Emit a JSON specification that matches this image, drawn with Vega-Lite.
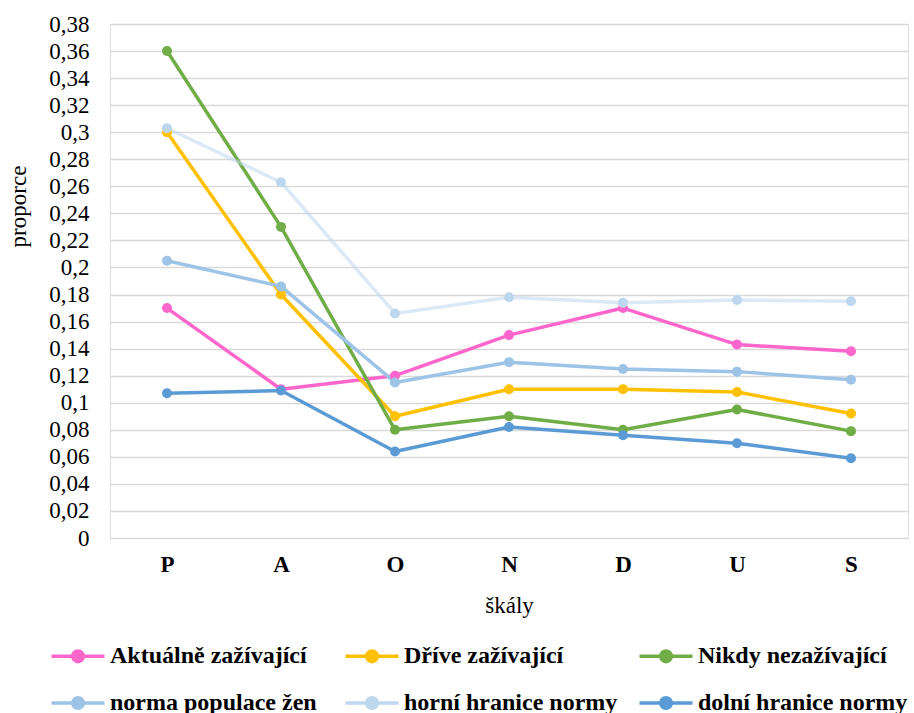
{
  "$schema": "https://vega.github.io/schema/vega-lite/v6.json",
  "width": 798,
  "height": 514,
  "autosize": "none",
  "padding": {"left": 110, "top": 24, "right": 6, "bottom": 175},
  "background": "white",
  "config": {"font": "Liberation Serif"},
  "data": {
    "values": [
      {"skala": "P", "serie": "Aktuálně zažívající", "hodnota": 0.17},
      {"skala": "A", "serie": "Aktuálně zažívající", "hodnota": 0.11},
      {"skala": "O", "serie": "Aktuálně zažívající", "hodnota": 0.12},
      {"skala": "N", "serie": "Aktuálně zažívající", "hodnota": 0.15},
      {"skala": "D", "serie": "Aktuálně zažívající", "hodnota": 0.17},
      {"skala": "U", "serie": "Aktuálně zažívající", "hodnota": 0.143},
      {"skala": "S", "serie": "Aktuálně zažívající", "hodnota": 0.138},
      {"skala": "P", "serie": "Dříve zažívající", "hodnota": 0.30},
      {"skala": "A", "serie": "Dříve zažívající", "hodnota": 0.18},
      {"skala": "O", "serie": "Dříve zažívající", "hodnota": 0.09},
      {"skala": "N", "serie": "Dříve zažívající", "hodnota": 0.11},
      {"skala": "D", "serie": "Dříve zažívající", "hodnota": 0.11},
      {"skala": "U", "serie": "Dříve zažívající", "hodnota": 0.108},
      {"skala": "S", "serie": "Dříve zažívající", "hodnota": 0.092},
      {"skala": "P", "serie": "Nikdy nezažívající", "hodnota": 0.36},
      {"skala": "A", "serie": "Nikdy nezažívající", "hodnota": 0.23},
      {"skala": "O", "serie": "Nikdy nezažívající", "hodnota": 0.08},
      {"skala": "N", "serie": "Nikdy nezažívající", "hodnota": 0.09},
      {"skala": "D", "serie": "Nikdy nezažívající", "hodnota": 0.08},
      {"skala": "U", "serie": "Nikdy nezažívající", "hodnota": 0.095},
      {"skala": "S", "serie": "Nikdy nezažívající", "hodnota": 0.079},
      {"skala": "P", "serie": "norma populace žen", "hodnota": 0.205},
      {"skala": "A", "serie": "norma populace žen", "hodnota": 0.186},
      {"skala": "O", "serie": "norma populace žen", "hodnota": 0.115},
      {"skala": "N", "serie": "norma populace žen", "hodnota": 0.130},
      {"skala": "D", "serie": "norma populace žen", "hodnota": 0.125},
      {"skala": "U", "serie": "norma populace žen", "hodnota": 0.123},
      {"skala": "S", "serie": "norma populace žen", "hodnota": 0.117},
      {"skala": "P", "serie": "horní hranice normy", "hodnota": 0.303},
      {"skala": "A", "serie": "horní hranice normy", "hodnota": 0.263},
      {"skala": "O", "serie": "horní hranice normy", "hodnota": 0.166},
      {"skala": "N", "serie": "horní hranice normy", "hodnota": 0.178},
      {"skala": "D", "serie": "horní hranice normy", "hodnota": 0.174},
      {"skala": "U", "serie": "horní hranice normy", "hodnota": 0.176},
      {"skala": "S", "serie": "horní hranice normy", "hodnota": 0.175},
      {"skala": "P", "serie": "dolní hranice normy", "hodnota": 0.107},
      {"skala": "A", "serie": "dolní hranice normy", "hodnota": 0.109},
      {"skala": "O", "serie": "dolní hranice normy", "hodnota": 0.064},
      {"skala": "N", "serie": "dolní hranice normy", "hodnota": 0.082},
      {"skala": "D", "serie": "dolní hranice normy", "hodnota": 0.076},
      {"skala": "U", "serie": "dolní hranice normy", "hodnota": 0.070},
      {"skala": "S", "serie": "dolní hranice normy", "hodnota": 0.059}
    ]
  },
  "encoding": {
    "x": {
      "field": "skala",
      "type": "nominal",
      "sort": ["P", "A", "O", "N", "D", "U", "S"],
      "scale": {"type": "point", "padding": 0.5},
      "axis": {
        "title": "škály",
        "labelAngle": 0,
        "labelFont": "Liberation Serif",
        "labelFontSize": 23,
        "labelFontWeight": "bold",
        "labelColor": "#000000",
        "labelPadding": 15,
        "titleFont": "Liberation Serif",
        "titleFontSize": 23,
        "titleFontWeight": "normal",
        "titleColor": "#000000",
        "titlePadding": 18,
        "domain": false,
        "ticks": false,
        "grid": false
      }
    },
    "y": {
      "field": "hodnota",
      "type": "quantitative",
      "scale": {"domain": [0, 0.38], "nice": false, "zero": true},
      "axis": {
        "title": "proporce",
        "values": [0, 0.02, 0.04, 0.06, 0.08, 0.1, 0.12, 0.14, 0.16, 0.18, 0.2, 0.22, 0.24, 0.26, 0.28, 0.3, 0.32, 0.34, 0.36, 0.38],
        "labelExpr": "replace(format(datum.value, '.2~f'), '.', ',')",
        "labelFont": "Liberation Serif",
        "labelFontSize": 23,
        "labelColor": "#000000",
        "labelPadding": 21,
        "titleFont": "Liberation Serif",
        "titleFontSize": 23,
        "titleFontWeight": "normal",
        "titleColor": "#000000",
        "titleY": 182,
        "titlePadding": 18,
        "domain": false,
        "ticks": false,
        "grid": true,
        "gridColor": "#D9D9D9",
        "gridWidth": 1.6
      }
    },
    "color": {
      "field": "serie",
      "type": "nominal",
      "sort": ["Aktuálně zažívající", "Dříve zažívající", "Nikdy nezažívající", "norma populace žen", "horní hranice normy", "dolní hranice normy"],
      "scale": {
        "domain": ["Aktuálně zažívající", "Dříve zažívající", "Nikdy nezažívající", "norma populace žen", "horní hranice normy", "dolní hranice normy"],
        "range": ["#FF66CC", "#FFC000", "#70AD47", "#9DC3E6", "#BDD7EE", "#5B9BD5"]
      },
      "legend": {
        "title": null,
        "orient": "none",
        "legendX": -60,
        "legendY": 617,
        "direction": "horizontal",
        "columns": 3,
        "gridAlign": "all",
        "columnPadding": 14,
        "rowPadding": 19,
        "symbolType": "M-2,0H2M-0.4,0A0.4,0.4,0,1,0,0.4,0A0.4,0.4,0,1,0,-0.4,0Z",
        "symbolSize": 702,
        "symbolOffset": 13,
        "symbolStrokeWidth": 3.5,
        "labelFont": "Liberation Serif",
        "labelFontSize": 24,
        "labelFontWeight": "bold",
        "labelColor": "#000000",
        "labelOffset": 17,
        "labelLimit": 400,
        "encode": {
          "symbols": {
            "update": {
              "fill": {"scale": "color", "field": "value"},
              "stroke": {"scale": "color", "field": "value"},
              "opacity": {"value": 1}
            }
          }
        }
      }
    },
    "detail": {"field": "serie"}
  },
  "layer": [
    {
      "mark": {"type": "line", "strokeWidth": 3.5, "strokeJoin": "round"},
      "encoding": {
        "strokeOpacity": {
          "condition": {"test": "datum.serie === 'horní hranice normy'", "value": 0.55},
          "value": 1
        }
      }
    },
    {
      "mark": {"type": "point", "filled": true, "size": 100, "opacity": 1}
    }
  ]
}
